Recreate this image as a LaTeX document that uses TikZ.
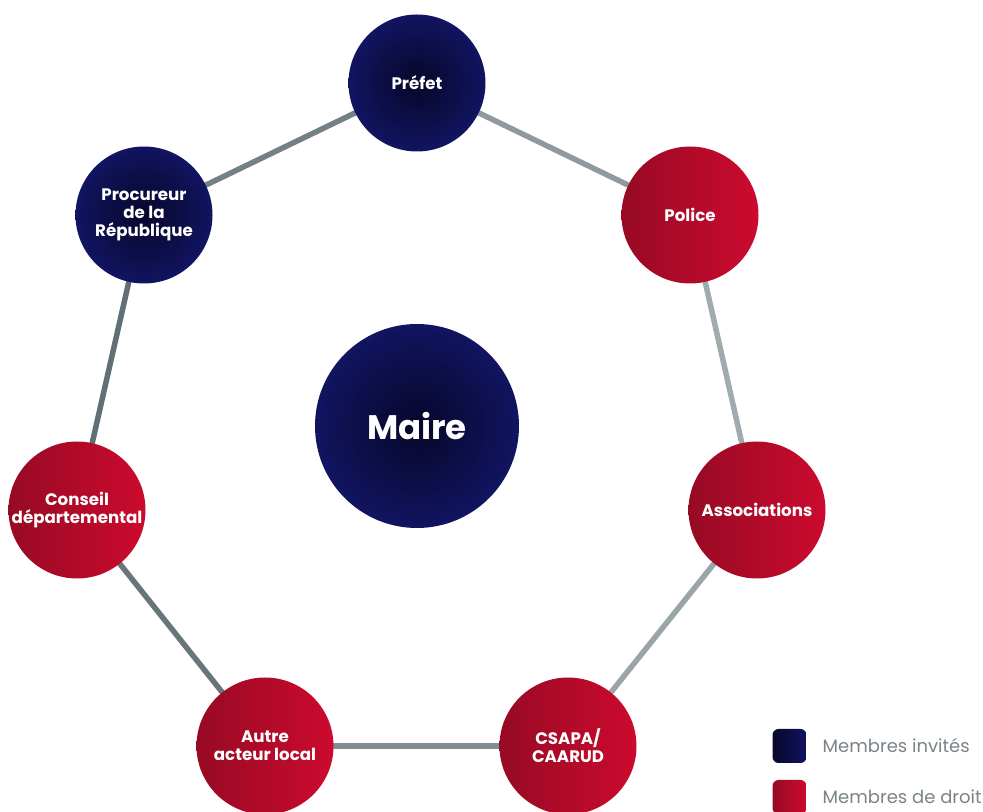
\documentclass[tikz,border=0pt]{standalone}
\usepackage{fontspec}
\setmainfont{Poppins}
\usetikzlibrary{backgrounds}
\definecolor{navyE}{HTML}{111460}
\definecolor{navyC}{HTML}{07072A}
\definecolor{redL}{HTML}{970A24}
\definecolor{redR}{HTML}{CC0A2E}
\definecolor{lineL}{HTML}{5E6D73}
\definecolor{lineR}{HTML}{A4AEB1}
\definecolor{legtext}{HTML}{7A8388}
\tikzset{
  member/.style={circle, minimum size=137*0.75pt, inner sep=0pt, text=white,
    align=center, font=\fontsize{12.5}{13.3}\selectfont\bfseries},
  invited/.style={member, inner color=navyC, outer color=navyE},
  ofright/.style={member, left color=redL, right color=redR},
  link/.style={line width=5.5*0.75pt},
  legbox/.style={minimum size=34*0.75pt, inner sep=0pt, rounded corners=6*0.75pt},
  legtxt/.style={anchor=west, text=legtext, font=\fontsize{13.5}{15}\selectfont}
}
\begin{document}
\begin{tikzpicture}[x=0.75pt,y=-0.75pt]
\useasboundingbox (0,0) rectangle (983,812);
\node[invited] (prefet) at (417,83) {Préfet};
\node[ofright] (police) at (690,215) {Police};
\node[ofright] (assoc) at (757,510) {Associations};
\node[ofright] (csapa) at (568,746) {CSAPA/\\CAARUD};
\node[ofright] (autre) at (265,746) {Autre\\acteur local};
\node[ofright] (conseil) at (77,510) {Conseil\\départemental};
\node[invited] (proc) at (144,215) {Procureur\\de la\\République};
\node[circle, minimum size=204*0.75pt, inner sep=0pt, inner color=navyC, outer color=navyE,
  text=white, font=\fontsize{25.5}{28}\selectfont\bfseries] (maire) at (417,426) {Maire};
\begin{pgfonlayer}{background}
\draw[link, draw=lineR!70!lineL] (prefet.center) -- (police.center);
\draw[link, draw=lineR!95!lineL] (police.center) -- (assoc.center);
\draw[link, draw=lineR!86!lineL] (assoc.center) -- (csapa.center);
\draw[link, draw=lineR!50!lineL] (csapa.center) -- (autre.center);
\draw[link, draw=lineR!14!lineL] (autre.center) -- (conseil.center);
\draw[link, draw=lineR!5!lineL] (conseil.center) -- (proc.center);
\draw[link, draw=lineR!30!lineL] (proc.center) -- (prefet.center);
\end{pgfonlayer}
\node[legbox, left color=navyC, right color=navyE] (leginv) at (789.5,746) {};
\node[legbox, left color=redL, right color=redR] (legdroit) at (789.5,797) {};
\node[legtxt] (tinv) at (818,746) {Membres invités};
\node[legtxt] (tdroit) at (818,797) {Membres de droit};
\end{tikzpicture}
\end{document}
